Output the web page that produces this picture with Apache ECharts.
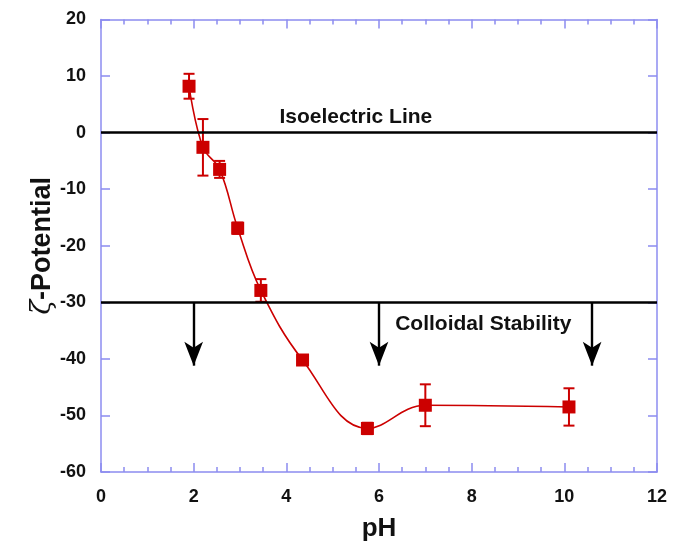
<!DOCTYPE html>
<html>
<head>
<meta charset="utf-8">
<script src="https://cdn.jsdelivr.net/npm/echarts@6/dist/echarts.min.js"></script>
<style>
  html, body { margin: 0; padding: 0; background: #fff; }
  #chart { width: 685px; height: 543px; }
</style>
</head>
<body>
<div id="chart"></div>
<script>
// Zeta potential measured against pH
const phValues   = [1.90, 2.20, 2.56, 2.95, 3.45, 4.35, 5.75, 7.00, 10.10];
const zetaValues = [8.2, -2.6, -6.5, -16.9, -27.9, -40.2, -52.3, -48.2, -48.5];
const zetaErrors = [2.2, 5.0, 1.5, 1.0, 2.0, 0.6, 1.0, 3.7, 3.3];

// Reference lines and the colloidal-stability arrows
const isoelectricLevel = 0;
const stabilityLevel = -30;
const arrowPh = [2.0, 6.0, 10.6];
const arrowTipZeta = -41.2;

const xTicks = { min: 0, max: 12, interval: 2 };
const yTicks = { min: -60, max: 20, interval: 10 };

const RED = '#cc0000';
const AXIS_BLUE = '#8c8cf0';
const FONT = 'Liberation Sans, Arial, sans-serif';

const chart = echarts.init(document.getElementById('chart'), null, { renderer: 'canvas' });

const axisCommon = {
  axisLine: { show: true, onZero: false, lineStyle: { color: AXIS_BLUE, width: 1.5 } },
  axisTick: { show: true, inside: true, length: 9, lineStyle: { color: AXIS_BLUE, width: 1.5 } },
  splitLine: { show: false }
};

const errorBars = phValues.map((x, i) => [x, zetaValues[i] - zetaErrors[i], zetaValues[i] + zetaErrors[i]]);

const option = {
  backgroundColor: '#fff',
  animation: false,
  grid: { left: 101, right: 28, top: 19.5, bottom: 71, containLabel: false, outerBoundsMode: 'none' },
  xAxis: [
    Object.assign({}, axisCommon, {
      type: 'value', position: 'bottom',
      min: xTicks.min, max: xTicks.max, interval: xTicks.interval,
      minorTick: { show: true, splitNumber: 4, length: 5, lineStyle: { color: AXIS_BLUE, width: 1.5 } },
      axisLabel: { color: '#111', fontFamily: FONT, fontWeight: 'bold', fontSize: 18, margin: 16 },
      name: 'pH', nameLocation: 'middle', nameGap: 44,
      nameTextStyle: { color: '#111', fontFamily: FONT, fontWeight: 'bold', fontSize: 26 }
    }),
    Object.assign({}, axisCommon, {
      type: 'value', position: 'top',
      min: xTicks.min, max: xTicks.max, interval: xTicks.interval,
      minorTick: { show: true, splitNumber: 4, length: 5, lineStyle: { color: AXIS_BLUE, width: 1.5 } },
      axisLabel: { show: false }
    })
  ],
  yAxis: [
    Object.assign({}, axisCommon, {
      type: 'value', position: 'left',
      min: yTicks.min, max: yTicks.max, interval: yTicks.interval,
      axisLabel: { color: '#111', fontFamily: FONT, fontWeight: 'bold', fontSize: 18, margin: 15 },
      name: '{g|ζ}-Potential', nameLocation: 'middle', nameGap: 45,
      nameMoveOverlap: false,
      nameTextStyle: {
        color: '#111', fontFamily: FONT, fontWeight: 'bold', fontSize: 27,
        rich: {
          g: { fontFamily: 'DejaVu Serif, serif', fontWeight: 'normal', fontStyle: 'italic', fontSize: 27, color: '#111' }
        }
      }
    }),
    Object.assign({}, axisCommon, {
      type: 'value', position: 'right',
      min: yTicks.min, max: yTicks.max, interval: yTicks.interval,
      axisLabel: { show: false }
    })
  ],
  series: [
    {
      // smooth trend curve through the measurements
      type: 'line',
      xAxisIndex: 0, yAxisIndex: 0,
      data: phValues.map((x, i) => [x, zetaValues[i]]),
      smooth: 0.4,
      showSymbol: false,
      lineStyle: { color: RED, width: 1.6 },
      z: 3,
      markLine: {
        silent: true,
        symbol: 'none',
        label: { show: false },
        lineStyle: { color: '#000', width: 2.6, type: 'solid' },
        data: [
          { yAxis: isoelectricLevel },
          { yAxis: stabilityLevel }
        ]
      }
    },
    {
      // stability arrows hanging from the -30 mV line
      type: 'line',
      xAxisIndex: 0, yAxisIndex: 0,
      data: [],
      markLine: {
        silent: true,
        symbol: ['none', 'arrow'],
        symbolSize: [14, 24],
        label: { show: false },
        lineStyle: { color: '#000', width: 2.4, type: 'solid' },
        data: arrowPh.map(x => [
          { coord: [x, stabilityLevel] },
          { coord: [x, arrowTipZeta] }
        ])
      }
    },
    {
      // error bars with caps
      type: 'custom',
      xAxisIndex: 0, yAxisIndex: 0,
      data: errorBars,
      z: 4,
      renderItem: function (params, api) {
        const x = api.value(0);
        const lo = api.coord([x, api.value(1)]);
        const hi = api.coord([x, api.value(2)]);
        const cap = 5.5;
        const style = { stroke: RED, lineWidth: 2 };
        return {
          type: 'group',
          children: [
            { type: 'line', shape: { x1: lo[0], y1: lo[1], x2: hi[0], y2: hi[1] }, style: style },
            { type: 'line', shape: { x1: lo[0] - cap, y1: lo[1], x2: lo[0] + cap, y2: lo[1] }, style: style },
            { type: 'line', shape: { x1: hi[0] - cap, y1: hi[1], x2: hi[0] + cap, y2: hi[1] }, style: style }
          ]
        };
      }
    },
    {
      // measured points
      type: 'scatter',
      xAxisIndex: 0, yAxisIndex: 0,
      data: phValues.map((x, i) => [x, zetaValues[i]]),
      symbol: 'rect',
      symbolSize: 13,
      itemStyle: { color: RED, opacity: 1 },
      z: 5
    }
  ]
};

chart.setOption(option);

// annotation texts anchored in data coordinates
const notes = [
  { text: 'Isoelectric Line', at: [5.5, 2.7] },
  { text: 'Colloidal Stability', at: [8.25, -33.8] }
];
chart.setOption({
  graphic: notes.map(n => {
    const p = chart.convertToPixel({ xAxisIndex: 0, yAxisIndex: 0 }, n.at);
    return {
      type: 'text',
      x: p[0], y: p[1],
      style: {
        text: n.text,
        fill: '#111',
        font: 'bold 21px ' + FONT,
        textAlign: 'center',
        textVerticalAlign: 'middle'
      },
      z: 10
    };
  })
});
</script>
</body>
</html>
